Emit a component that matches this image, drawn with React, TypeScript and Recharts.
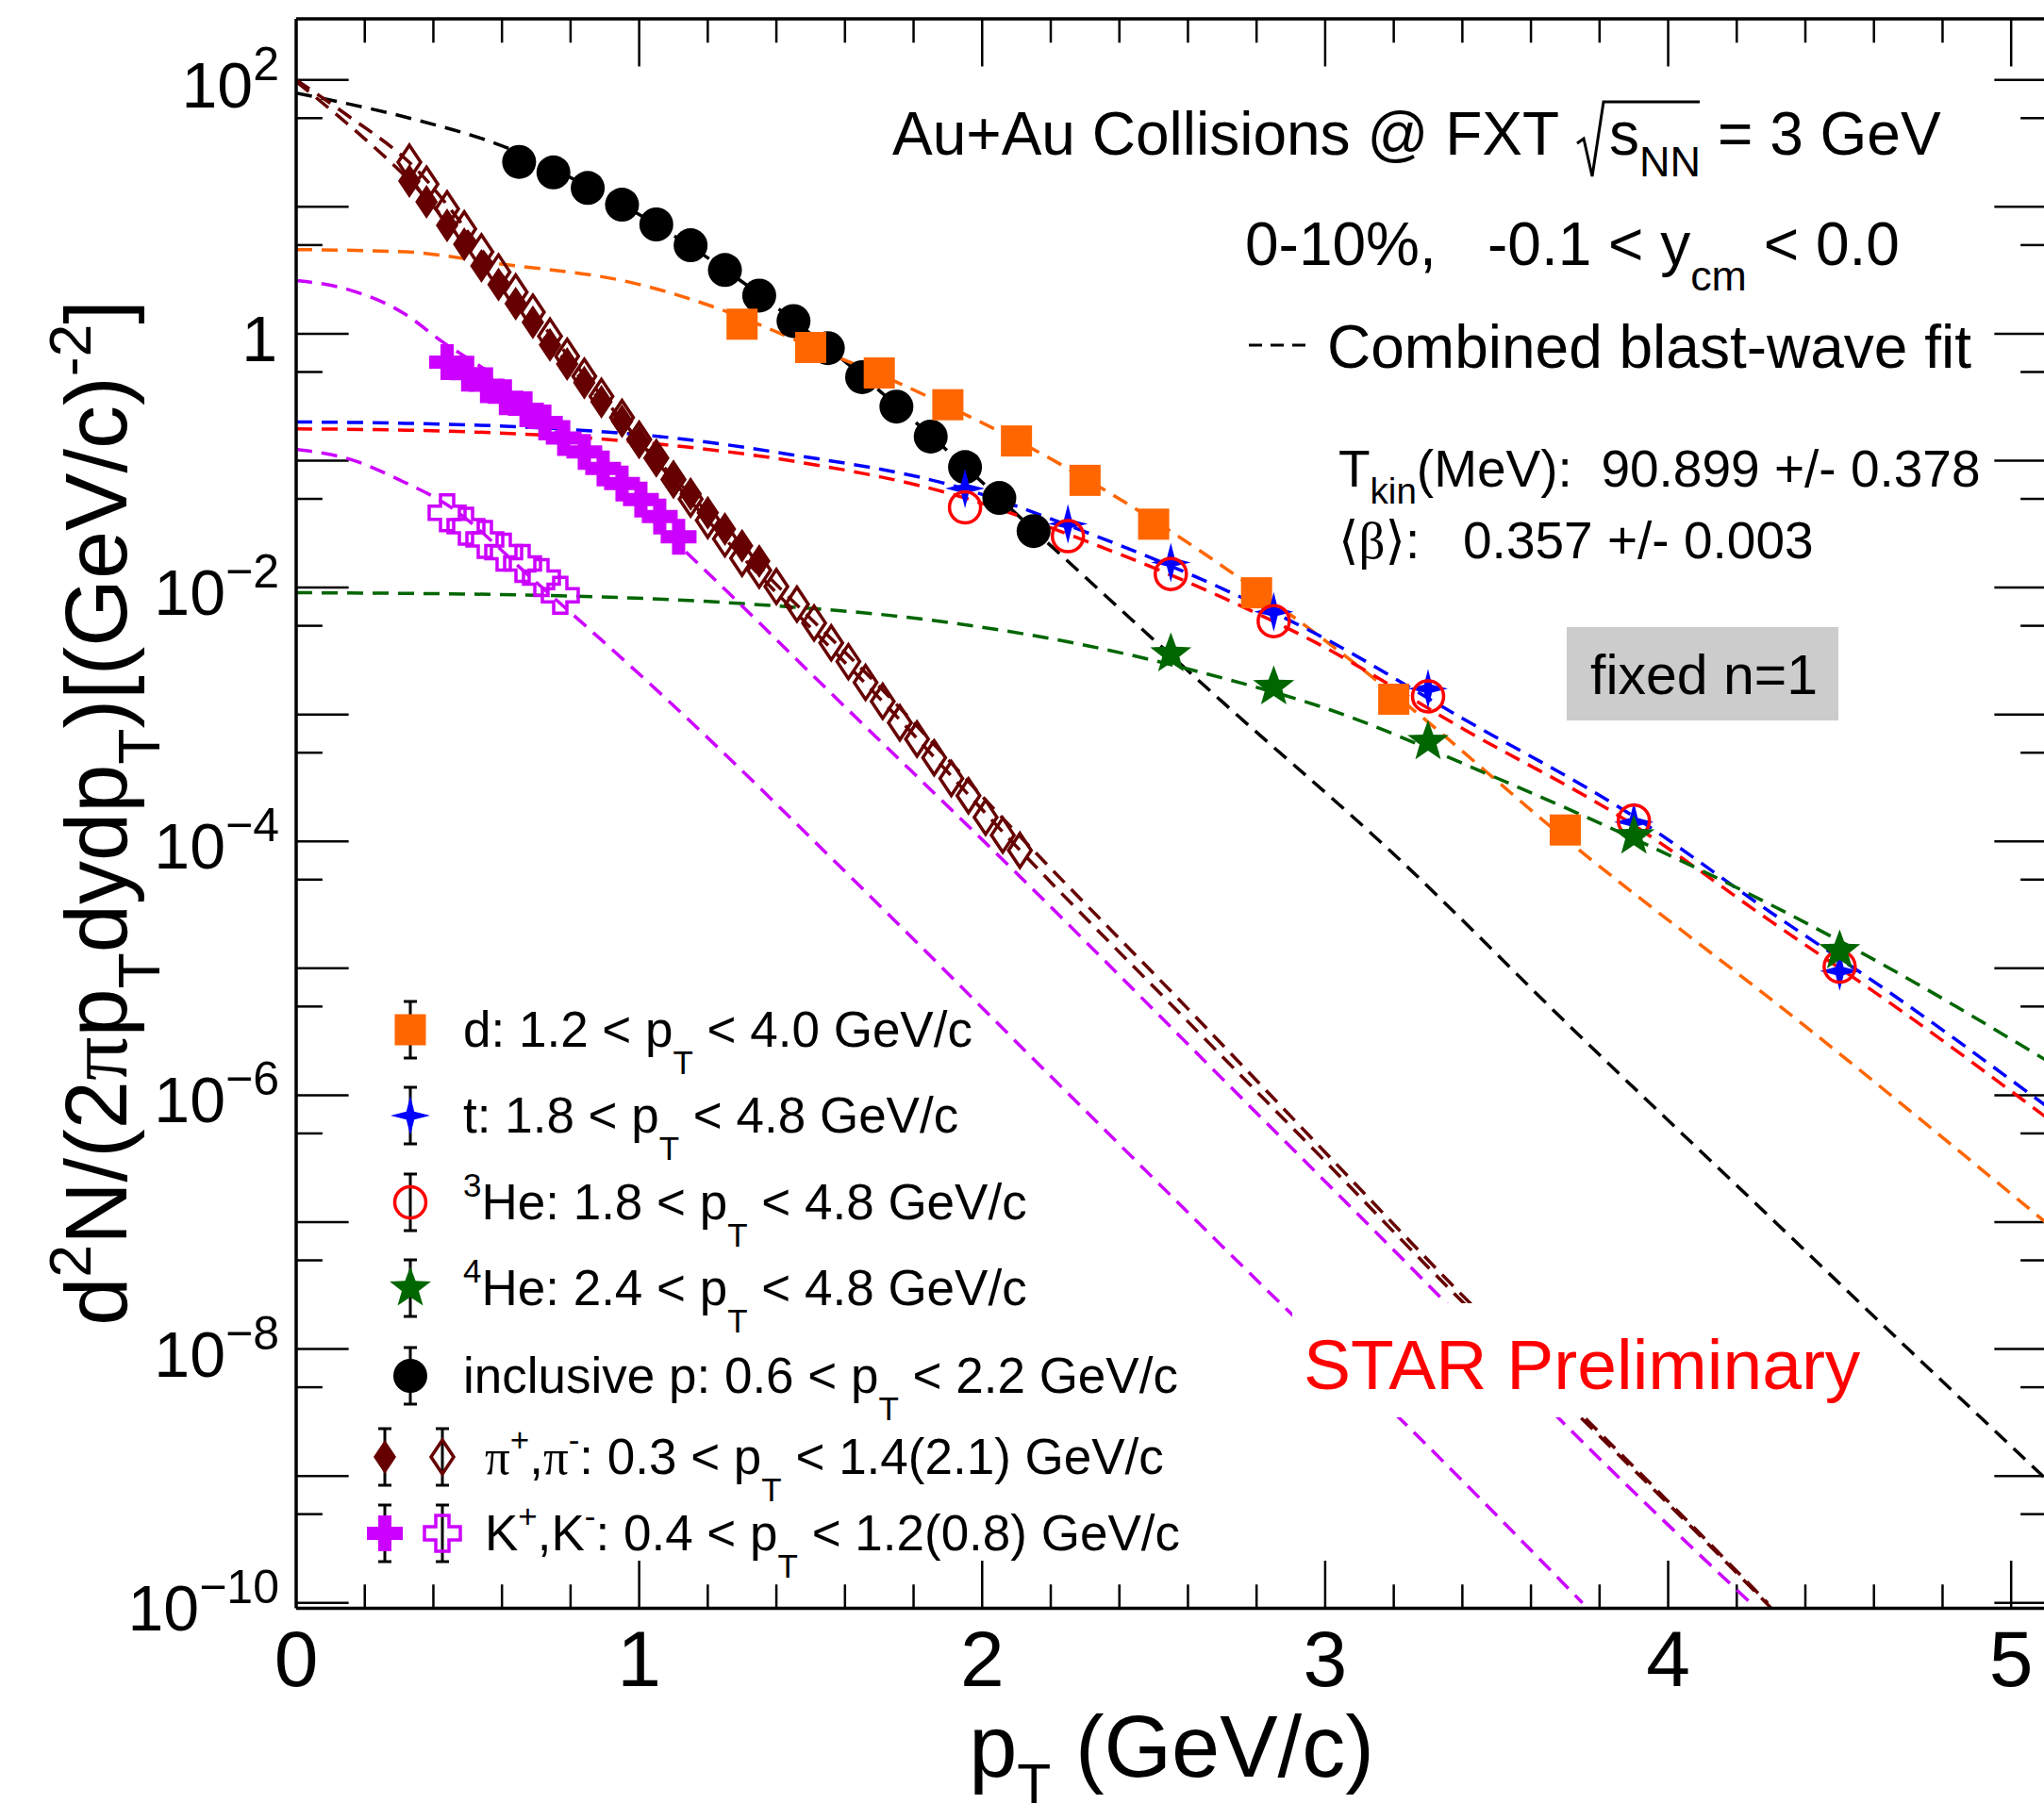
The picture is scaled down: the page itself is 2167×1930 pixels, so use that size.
import React from "react";
import { ComposedChart, Line, Scatter, XAxis, YAxis, ReferenceLine } from "recharts";

// ---- axis ranges (log y) ----
const X_MAX = 5.104;
const Y_MIN = 9.06e-11;
const Y_MAX = 303;
const X_TICKS = [0, 1, 2, 3, 4, 5];
const Y_TICKS = [1e-10, 1e-8, 1e-6, 1e-4, 1e-2, 1, 100];

// ---- measured spectra ----
const protonX = [0.65, 0.75, 0.85, 0.95, 1.05, 1.15, 1.25, 1.35, 1.45, 1.55, 1.65, 1.75, 1.85, 1.95, 2.05, 2.15];
const protonY = [22.6, 18.7, 14.1, 10.4, 7.27, 4.98, 3.18, 2.0, 1.26, 0.77, 0.455, 0.267, 0.155, 0.089, 0.0508, 0.0279];

const deutX = [1.3, 1.5, 1.7, 1.9, 2.1, 2.3, 2.5, 2.8, 3.2, 3.7];
const deutY = [1.19, 0.78, 0.491, 0.276, 0.143, 0.07, 0.0316, 0.0091, 0.00132, 1.23e-4];

const tritX = [1.95, 2.25, 2.55, 2.85, 3.3, 3.9, 4.5];
const tritY = [0.0604, 0.0318, 0.0158, 0.00645, 0.0016, 1.42e-4, 9.5e-6];

const he3X = [1.95, 2.25, 2.55, 2.85, 3.3, 3.9, 4.5];
const he3Y = [0.0429, 0.0254, 0.0128, 0.00544, 0.00139, 1.46e-4, 1.03e-5];

const he4X = [2.55, 2.85, 3.3, 3.9, 4.5];
const he4Y = [0.003, 0.00165, 6.1e-4, 1.1e-4, 1.37e-5];

const piPlusX = [0.33, 0.38, 0.44, 0.49, 0.54, 0.59, 0.64, 0.69, 0.74, 0.79, 0.84, 0.89, 0.95, 1.0, 1.05, 1.1, 1.15, 1.2, 1.25, 1.3, 1.35];
const piPlusY = [15.96, 10.96, 7.14, 5.08, 3.43, 2.44, 1.73, 1.23, 0.817, 0.579, 0.412, 0.292, 0.204, 0.14, 0.105, 0.0745, 0.0547, 0.0389, 0.029, 0.0214, 0.0162];

const piMinusX = [0.33, 0.38, 0.44, 0.49, 0.54, 0.59, 0.64, 0.69, 0.74, 0.79, 0.84, 0.89, 0.95, 1.0, 1.05, 1.1, 1.15, 1.2, 1.25, 1.3, 1.35,
  1.4, 1.46, 1.51, 1.56, 1.61, 1.66, 1.71, 1.76, 1.81, 1.86, 1.91, 1.96, 2.01, 2.06, 2.11];
const piMinusY = [22.5, 15.1, 9.64, 6.7, 4.42, 3.07, 2.13, 1.48, 0.959, 0.665, 0.462, 0.321, 0.219, 0.147, 0.105, 0.0711, 0.0499, 0.0339, 0.0242, 0.017, 0.0137,
  0.0102, 0.0074, 0.00526, 0.00367, 0.00261, 0.00179, 0.00127, 8.6e-4, 6.4e-4, 4.56e-4, 3.13e-4, 2.29e-4, 1.55e-4, 1.12e-4, 8.5e-5];

const kPlusX = [0.44, 0.5, 0.555, 0.61, 0.67, 0.725, 0.78, 0.84, 0.895, 0.95, 1.005, 1.06, 1.115];
const kPlusY = [0.597, 0.484, 0.394, 0.316, 0.254, 0.2, 0.151, 0.117, 0.087, 0.066, 0.0495, 0.0363, 0.0251];

const kMinusX = [0.44, 0.495, 0.55, 0.605, 0.66, 0.715, 0.77];
const kMinusY = [0.0389, 0.0305, 0.024, 0.019, 0.0155, 0.012, 0.0087];

// ---- blast-wave fit curves ----
const fitPX = [0, 0.12, 0.33, 0.62, 0.8, 1.0, 1.3, 1.6, 1.9, 2.2, 2.7, 3.2, 3.73, 4.32, 4.7, 5.1];
const fitPY = [78.9, 67.6, 50.1, 28.8, 17.0, 8.71, 2.57, 0.603, 0.119, 0.0214, 1.26e-3, 7.94e-5, 3.16e-6, 9.55e-8, 1.0e-8, 9.55e-10];

const fitDX = [0, 0.32, 0.575, 1.0, 1.26, 1.5, 1.7, 1.9, 2.1, 2.3, 2.5, 2.8, 3.2, 3.7, 4.42, 5.1];
const fitDY = [4.61, 4.42, 3.61, 2.45, 1.48, 0.794, 0.479, 0.269, 0.145, 0.0724, 0.0339, 9.55e-3, 1.45e-3, 1.05e-4, 3.16e-6, 1.0e-7];

const fitTX = [0, 0.32, 0.7, 1.06, 1.44, 1.92, 2.3, 2.71, 2.97, 3.4, 3.88, 4.3, 4.64, 5.1];
const fitTY = [0.202, 0.197, 0.182, 0.155, 0.112, 0.0631, 0.0275, 9.55e-3, 4.37e-3, 9.33e-4, 1.7e-4, 2.75e-5, 6.61e-6, 8.32e-7];

const fitHe3X = [0, 0.32, 0.7, 1.06, 1.44, 1.92, 2.3, 2.71, 2.97, 3.4, 3.88, 4.3, 4.64, 5.1];
const fitHe3Y = [0.178, 0.174, 0.16, 0.135, 0.1, 0.0537, 0.0234, 8.13e-3, 3.72e-3, 7.76e-4, 1.45e-4, 2.34e-5, 5.5e-6, 6.76e-7];

const fitHe4X = [0, 0.7, 1.3, 1.89, 2.31, 2.71, 2.98, 3.5, 3.9, 4.3, 4.64, 5.1];
const fitHe4Y = [9.12e-3, 8.71e-3, 7.48e-3, 5.37e-3, 3.47e-3, 1.91e-3, 1.17e-3, 3.16e-4, 1.05e-4, 3.16e-5, 1.02e-5, 1.9e-6];

const fitPiPX = [0, 0.15, 0.33, 0.6, 0.9, 1.2, 1.35, 1.7, 2.1, 2.6, 3.0, 3.39, 3.73, 4.0, 4.29];
const fitPiPY = [97, 45, 16.2, 2.29, 0.275, 0.0389, 0.0145, 1.66e-3, 1.17e-4, 4.79e-6, 3.55e-7, 2.82e-8, 3.39e-9, 6.3e-10, 1.0e-10];

const fitPiMX = [0, 0.15, 0.33, 0.6, 0.9, 1.2, 1.35, 1.7, 2.1, 2.6, 3.0, 3.39, 3.73, 4.0, 4.3];
const fitPiMY = [100, 52.5, 22.4, 2.88, 0.302, 0.0339, 0.0126, 1.35e-3, 9.12e-5, 3.8e-6, 3.02e-7, 2.51e-8, 3.16e-9, 6.03e-10, 9.12e-11];

const fitKPX = [0, 0.15, 0.31, 0.43, 0.56, 0.8, 1.125, 1.6, 2.134, 2.7, 3.35, 3.69, 4.24];
const fitKPY = [2.63, 2.24, 1.47, 0.851, 0.501, 0.132, 0.0204, 1.15e-3, 4.57e-5, 1.35e-6, 2.34e-8, 2.69e-9, 1.0e-10];

const fitKMX = [0, 0.16, 0.31, 0.43, 0.7, 1.08, 1.639, 2.2, 2.9, 3.2, 3.75];
const fitKMY = [0.123, 0.102, 0.0687, 0.0468, 0.011, 1.32e-3, 4.57e-5, 1.41e-6, 1.91e-8, 3.16e-9, 1.0e-10];

const pts = (xs: number[], ys: number[]) => xs.map((x, i) => ({ x, y: ys[i] }));

const FONT = "'Liberation Sans', Arial, Helvetica, sans-serif";
const SERIF = "'Liberation Serif', 'DejaVu Serif', 'Times New Roman', serif";
const ORANGE = "#ff6600";
const BLUE = "#0000ff";
const RED = "#ff0000";
const GREEN = "#006600";
const PI_C = "#660000";
const K_C = "#cc00ff";
const DASH = "17 10";
const LW = 3.5;

type Kind = "circle" | "square" | "star4" | "ring" | "star5" | "diamond" | "diamondOpen" | "cross" | "crossOpen";

function starPath(cx: number, cy: number, n: number, R: number, r: number) {
  let d = "";
  for (let i = 0; i < 2 * n; i++) {
    const rad = i % 2 === 0 ? R : r;
    const a = (i * Math.PI) / n;
    d += (i ? "L" : "M") + (cx + rad * Math.sin(a)).toFixed(1) + "," + (cy - rad * Math.cos(a)).toFixed(1);
  }
  return d + "Z";
}

function diamondPath(cx: number, cy: number) {
  return `M${cx},${cy - 18}L${cx + 12},${cy}L${cx},${cy + 18}L${cx - 12},${cy}Z`;
}

function crossPath(cx: number, cy: number) {
  const s = 19, a = 7;
  const p = [[-a, -s], [a, -s], [a, -a], [s, -a], [s, a], [a, a], [a, s], [-a, s], [-a, a], [-s, a], [-s, -a], [-a, -a]];
  return "M" + p.map(([dx, dy]) => `${cx + dx},${cy + dy}`).join("L") + "Z";
}

function Marker({ kind, cx, cy }: { kind: Kind; cx: number; cy: number }) {
  switch (kind) {
    case "circle": return <circle cx={cx} cy={cy} r={18} fill="#000" />;
    case "square": return <rect x={cx - 16.5} y={cy - 16.5} width={33} height={33} fill={ORANGE} />;
    case "star4": return <path d={starPath(cx, cy, 4, 21, 6)} fill={BLUE} />;
    case "ring": return <circle cx={cx} cy={cy} r={16.5} fill="none" stroke={RED} strokeWidth={3.5} />;
    case "star5": return <path d={starPath(cx, cy, 5, 23, 9.5)} fill={GREEN} />;
    case "diamond": return <path d={diamondPath(cx, cy)} fill={PI_C} />;
    case "diamondOpen": return <path d={diamondPath(cx, cy)} fill="none" stroke={PI_C} strokeWidth={3.5} />;
    case "cross": return <path d={crossPath(cx, cy)} fill={K_C} />;
    case "crossOpen": return <path d={crossPath(cx, cy)} fill="none" stroke={K_C} strokeWidth={3.5} />;
  }
  return null;
}

const shapeOf = (kind: Kind) => (p: any) => <Marker kind={kind} cx={p.cx} cy={p.cy} />;

type Seg = { t: string; sub?: boolean; sup?: boolean; serif?: boolean };

function Rich({ x, y, fs, segs, anchor = "start", fill = "#000", subShift, supShift, scale = 0.68, transform }:
  { x: number; y: number; fs: number; segs: Seg[]; anchor?: string; fill?: string; subShift: number; supShift: number; scale?: number; transform?: string }) {
  let level = 0;
  const kids = segs.map((s, i) => {
    const target = s.sub ? subShift : s.sup ? -supShift : 0;
    const dy = target - level;
    level = target;
    return (
      <tspan key={i} dy={dy} fontSize={s.sub || s.sup ? fs * scale : fs} fontFamily={s.serif ? SERIF : FONT}>{s.t}</tspan>
    );
  });
  return (
    <text x={x} y={y} fontSize={fs} fontFamily={FONT} textAnchor={anchor as any} fill={fill} transform={transform} style={{ whiteSpace: "pre" }}>
      {kids}
    </text>
  );
}

const YTick = (p: any) => {
  const e = Math.round(Math.log10(p.payload.value));
  if (e === 0) {
    return <text x={294} y={p.y + 29} textAnchor="end" fontSize={68} fontFamily={FONT}>1</text>;
  }
  return (
    <text x={296} y={p.y + 29} textAnchor="end" fontSize={68} fontFamily={FONT}>
      10<tspan dy={-29} fontSize={50}>{e < 0 ? "\u2212" + -e : String(e)}</tspan>
    </text>
  );
};

const XTick = (p: any) => (
  <text x={p.x} y={1788} textAnchor="middle" fontSize={84} fontFamily={FONT}>{p.payload.value}</text>
);

// tick-mark positions (axis decoration)
const xTickPos = Array.from({ length: 25 }, (_, i) => Math.round((i + 1) * 2) / 10);
const yLong = Array.from({ length: 13 }, (_, i) => Math.pow(10, i - 10));
const yShort = Array.from({ length: 12 }, (_, i) => 5 * Math.pow(10, i - 10));

const legendRows: { cy: number; tx: number; marks: [number, Kind][]; segs: Seg[] }[] = [
  { cy: 1092, tx: 491, marks: [[435, "square"]], segs: [{ t: "d: 1.2 < p" }, { t: "T", sub: true }, { t: " < 4.0 GeV/c" }] },
  { cy: 1183, tx: 491, marks: [[435, "star4"]], segs: [{ t: "t: 1.8 < p" }, { t: "T", sub: true }, { t: " < 4.8 GeV/c" }] },
  { cy: 1275, tx: 491, marks: [[435, "ring"]], segs: [{ t: "3", sup: true }, { t: "He: 1.8 < p" }, { t: "T", sub: true }, { t: " < 4.8 GeV/c" }] },
  { cy: 1366, tx: 491, marks: [[435, "star5"]], segs: [{ t: "4", sup: true }, { t: "He: 2.4 < p" }, { t: "T", sub: true }, { t: " < 4.8 GeV/c" }] },
  { cy: 1459, tx: 491, marks: [[435, "circle"]], segs: [{ t: "inclusive p: 0.6 < p" }, { t: "T", sub: true }, { t: " < 2.2 GeV/c" }] },
  { cy: 1545, tx: 514, marks: [[408, "diamond"], [469, "diamondOpen"]], segs: [{ t: "\u03c0", serif: true }, { t: "+", sup: true }, { t: "," }, { t: "\u03c0", serif: true }, { t: "-", sup: true }, { t: ": 0.3 < p" }, { t: "T", sub: true }, { t: " < 1.4(2.1) GeV/c" }] },
  { cy: 1626, tx: 514, marks: [[408, "cross"], [469, "crossOpen"]], segs: [{ t: "K" }, { t: "+", sup: true }, { t: ",K" }, { t: "-", sup: true }, { t: ": 0.4 < p" }, { t: "T", sub: true }, { t: " < 1.2(0.8) GeV/c" }] },
];

function Overlay() {
  return (
    <svg width={2167} height={1930} style={{ position: "absolute", left: 0, top: 0, pointerEvents: "none" }}>
      {/* axis titles */}
      <Rich x={0} y={0} transform="translate(134,862) rotate(-90)" anchor="middle" fs={92} subShift={35} supShift={38}
        segs={[{ t: "d" }, { t: "2", sup: true }, { t: "N/(2" }, { t: "\u03c0", serif: true }, { t: "p" }, { t: "T", sub: true }, { t: "dydp" }, { t: "T", sub: true }, { t: ")[(GeV/c)" }, { t: "-2", sup: true }, { t: "]" }]} />
      <Rich x={1242} y={1884} anchor="middle" fs={92} subShift={28} supShift={30} scale={0.64} segs={[{ t: "p" }, { t: "T", sub: true }, { t: " (GeV/c)" }]} />

      {/* header text */}
      <text x={946} y={164} fontSize={64} fontFamily={FONT}>Au+Au Collisions @ FXT</text>
      <path d="M1672,152 L1679,147 L1688,187 L1700,108 L1802,108" stroke="#000" strokeWidth={3} fill="none" />
      <text x={1706} y={164} fontSize={64} fontFamily={FONT}>s<tspan dy={23} fontSize={45}>NN</tspan></text>
      <text x={1821} y={164} fontSize={64} fontFamily={FONT}>= 3 GeV</text>

      <text x={1320} y={281} fontSize={64} fontFamily={FONT}>0-10%,</text>
      <Rich x={1577} y={281} fs={64} subShift={27} supShift={20} scale={0.7} segs={[{ t: "-0.1 < y" }, { t: "cm", sub: true }, { t: " < 0.0" }]} />

      <line x1={1324} y1={366} x2={1384} y2={366} stroke="#000" strokeWidth={3} strokeDasharray="14 9" />
      <text x={1407} y={390} fontSize={64} fontFamily={FONT}>Combined blast-wave fit</text>

      <Rich x={1419} y={516} fs={55} subShift={18} supShift={18} scale={0.7} segs={[{ t: "T" }, { t: "kin", sub: true }, { t: "(MeV):  90.899 +/- 0.378" }]} />
      <Rich x={1419} y={592} fs={55} subShift={18} supShift={18} segs={[{ t: "\u27e8\u03b2\u27e9", serif: true }, { t: ":   0.357 +/- 0.003" }]} />

      <rect x={1661} y={665} width={288} height={99} fill="#cccccc" />
      <text x={1686} y={736} fontSize={59} fontFamily={FONT}>fixed n=1</text>

      {/* legend */}
      {legendRows.map((row, i) => (
        <g key={i}>
          {row.marks.map(([mx, kind], j) => (
            <g key={j}>
              <line x1={mx} y1={row.cy - 30} x2={mx} y2={row.cy + 30} stroke="#000" strokeWidth={3} />
              <line x1={mx - 7} y1={row.cy - 30} x2={mx + 7} y2={row.cy - 30} stroke="#000" strokeWidth={3} />
              <line x1={mx - 7} y1={row.cy + 30} x2={mx + 7} y2={row.cy + 30} stroke="#000" strokeWidth={3} />
              <Marker kind={kind} cx={mx} cy={row.cy} />
            </g>
          ))}
          <Rich x={row.tx} y={row.cy + 18} fs={53} subShift={29} supShift={24} scale={0.66} segs={row.segs} />
        </g>
      ))}

      {/* STAR label box */}
      <rect x={1370} y={1382} width={585} height={121} fill="#fff" />
      <text x={1382} y={1473} fontSize={75} fontFamily={FONT} fill={RED}>STAR Preliminary</text>
    </svg>
  );
}

export default function App() {
  const tick = { stroke: "#000", strokeWidth: 2.5 };
  const fit = { dataKey: "y", type: "monotone" as const, strokeWidth: LW, strokeDasharray: DASH, dot: false, activeDot: false, isAnimationActive: false };
  return (
    <div style={{ position: "absolute", left: 0, top: 0, width: 2167, height: 1930, overflow: "hidden", background: "#fff" }}>
      <ComposedChart width={2180} height={1930} margin={{ top: 20, right: 10, bottom: 0, left: 0 }}>
        <XAxis type="number" dataKey="x" domain={[0, X_MAX]} allowDataOverflow ticks={X_TICKS} interval={0}
          height={224.5} tick={XTick} tickLine={false} axisLine={{ stroke: "#000", strokeWidth: 3.5 }} />
        <YAxis type="number" dataKey="y" scale="log" domain={[Y_MIN, Y_MAX]} allowDataOverflow ticks={Y_TICKS} interval={0}
          width={314} tick={YTick} tickLine={false} axisLine={{ stroke: "#000", strokeWidth: 3.5 }} />

        <ReferenceLine y={Y_MAX} stroke="#000" strokeWidth={3.5} />
        {xTickPos.map((v) => {
          const f = Number.isInteger(v) ? Math.pow(10, 0.375) : Math.pow(10, 0.1877);
          return [
            <ReferenceLine key={"xb" + v} segment={[{ x: v, y: Y_MIN }, { x: v, y: Y_MIN * f }]} {...tick} />,
            <ReferenceLine key={"xt" + v} segment={[{ x: v, y: Y_MAX }, { x: v, y: Y_MAX / f }]} {...tick} />,
          ];
        })}
        {yLong.map((v) => [
          <ReferenceLine key={"yl" + v} segment={[{ x: 0, y: v }, { x: 0.153, y: v }]} {...tick} />,
          <ReferenceLine key={"yr" + v} segment={[{ x: X_MAX - 0.153, y: v }, { x: X_MAX, y: v }]} {...tick} />,
        ])}
        {yShort.map((v) => [
          <ReferenceLine key={"ysl" + v} segment={[{ x: 0, y: v }, { x: 0.0766, y: v }]} {...tick} />,
          <ReferenceLine key={"ysr" + v} segment={[{ x: X_MAX - 0.0766, y: v }, { x: X_MAX, y: v }]} {...tick} />,
        ])}

        <Scatter data={pts(protonX, protonY)} shape={shapeOf("circle")} isAnimationActive={false} />
        <Scatter data={pts(deutX, deutY)} shape={shapeOf("square")} isAnimationActive={false} />
        <Scatter data={pts(tritX, tritY)} shape={shapeOf("star4")} isAnimationActive={false} />
        <Scatter data={pts(he3X, he3Y)} shape={shapeOf("ring")} isAnimationActive={false} />
        <Scatter data={pts(he4X, he4Y)} shape={shapeOf("star5")} isAnimationActive={false} />
        <Scatter data={pts(piMinusX, piMinusY)} shape={shapeOf("diamondOpen")} isAnimationActive={false} />
        <Scatter data={pts(piPlusX, piPlusY)} shape={shapeOf("diamond")} isAnimationActive={false} />
        <Scatter data={pts(kMinusX, kMinusY)} shape={shapeOf("crossOpen")} isAnimationActive={false} />
        <Scatter data={pts(kPlusX, kPlusY)} shape={shapeOf("cross")} isAnimationActive={false} />

        <Line data={pts(fitPX, fitPY)} stroke="#000" {...fit} />
        <Line data={pts(fitDX, fitDY)} stroke={ORANGE} {...fit} />
        <Line data={pts(fitTX, fitTY)} stroke={BLUE} {...fit} />
        <Line data={pts(fitHe3X, fitHe3Y)} stroke={RED} {...fit} />
        <Line data={pts(fitHe4X, fitHe4Y)} stroke={GREEN} {...fit} />
        <Line data={pts(fitPiPX, fitPiPY)} stroke={PI_C} {...fit} />
        <Line data={pts(fitPiMX, fitPiMY)} stroke={PI_C} {...fit} />
        <Line data={pts(fitKPX, fitKPY)} stroke={K_C} {...fit} />
        <Line data={pts(fitKMX, fitKMY)} stroke={K_C} {...fit} />
      </ComposedChart>
      <Overlay />
    </div>
  );
}
